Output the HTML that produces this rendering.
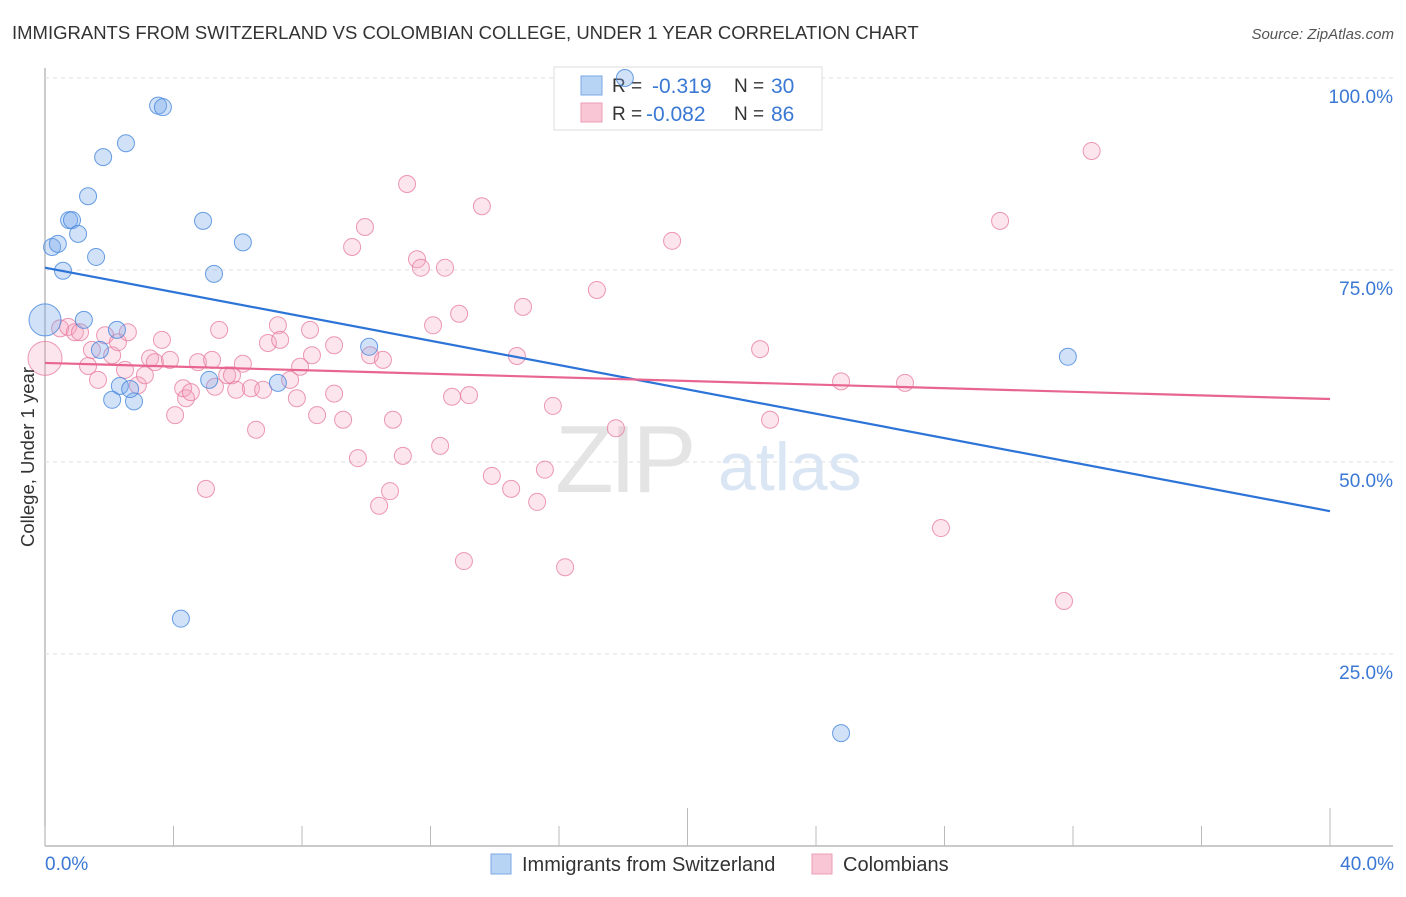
<!DOCTYPE html>
<html><head><meta charset="utf-8"><style>
body{margin:0;background:#fff;font-family:"Liberation Sans",sans-serif;}
svg text{font-family:"Liberation Sans",sans-serif;}
</style></head><body>
<svg id="chart" width="1406" height="892" viewBox="0 0 1406 892" xmlns="http://www.w3.org/2000/svg">
<text x="12" y="39" font-size="18.5" fill="#333">IMMIGRANTS FROM SWITZERLAND VS COLOMBIAN COLLEGE, UNDER 1 YEAR CORRELATION CHART</text>
<text x="1394" y="39" font-size="15" fill="#555" text-anchor="end" font-style="italic">Source: ZipAtlas.com</text>
<g id="grid"></g>
<text x="555" y="492" font-size="96" fill="#e4e4e4" font-family="Liberation Serif" letter-spacing="-4">ZIP</text>
<text x="718" y="490" font-size="68" fill="#dbe6f4">atlas</text>
<g>
<rect x="554" y="67" width="268" height="63" fill="#fff" stroke="#ddd"/>
<rect x="581" y="76" width="21" height="19" fill="#b8d4f5" stroke="#7aa9e6"/>
<rect x="581" y="103" width="21" height="19" fill="#f9c6d5" stroke="#eb9db5"/>
<text x="612" y="92" font-size="19" fill="#333">R =</text>
<text x="652" y="93" font-size="21" fill="#3a78d4">-0.319</text>
<text x="734" y="92" font-size="19" fill="#333">N =</text>
<text x="771" y="93" font-size="21" fill="#3a78d4">30</text>
<text x="612" y="120" font-size="19" fill="#333">R =</text>
<text x="646" y="121" font-size="21" fill="#3a78d4">-0.082</text>
<text x="734" y="120" font-size="19" fill="#333">N =</text>
<text x="771" y="121" font-size="21" fill="#3a78d4">86</text>
</g>
<g id="points"></g>
<g id="lines"></g>
<text transform="translate(34,457) rotate(-90)" font-size="18.5" fill="#333" text-anchor="middle">College, Under 1 year</text>
<text x="45" y="870" font-size="19" fill="#3a78d4">0.0%</text>
<text x="1394" y="870" font-size="19" fill="#3a78d4" text-anchor="end">40.0%</text>
<g>
<rect x="491" y="854" width="20" height="20" fill="#b8d4f5" stroke="#7aa9e6"/>
<text x="522" y="871" font-size="20" fill="#333">Immigrants from Switzerland</text>
<rect x="812" y="854" width="20" height="20" fill="#f9c6d5" stroke="#eb9db5"/>
<text x="843" y="871" font-size="20" fill="#333">Colombians</text>
</g>
</svg>
<script>
const yTicks=[25,50,75,100];
const yTickLabels=["25.0%","50.0%","75.0%","100.0%"];
const swissX=[0,0.22,0.40,0.56,0.75,0.84,1.03,1.34,1.59,1.21,1.81,2.52,3.52,3.67,4.92,6.16,5.26,2.24,1.71,2.09,2.33,2.77,2.65,5.11,4.23,7.25,10.09,18.05,31.84,24.78];
const swissY=[68.5,78.0,78.4,74.9,81.5,81.5,79.7,84.6,76.7,68.5,89.7,91.5,96.4,96.2,81.4,78.6,74.5,67.2,64.6,58.1,59.9,57.9,59.5,60.7,29.6,60.3,65.0,100,63.7,14.7];
const colX=[0,0.47,0.72,0.93,1.09,1.34,1.46,1.65,1.87,2.09,2.27,2.49,2.58,2.89,3.11,3.27,3.42,3.64,3.89,4.05,4.30,4.39,4.54,4.76,5.01,5.20,5.29,5.42,5.67,5.82,5.95,6.16,6.41,6.57,6.79,6.94,7.25,7.32,7.63,7.84,7.94,8.25,8.31,8.47,9.00,9.00,9.28,9.56,9.74,9.96,10.12,10.52,10.40,10.74,10.83,11.14,11.27,11.58,11.70,12.08,12.45,12.30,12.67,12.89,13.20,13.04,13.60,13.91,14.51,14.69,14.88,15.32,15.56,15.81,16.19,17.18,17.77,19.52,22.26,22.57,24.78,26.77,27.89,29.73,31.72,32.58];
const colY=[63.5,67.4,67.6,66.9,66.9,62.5,64.6,60.7,66.5,63.9,65.6,62.0,66.9,60.0,61.3,63.5,63.0,65.9,63.3,56.1,59.6,58.3,59.1,63.0,46.5,63.3,59.8,67.2,61.3,61.3,59.4,62.8,59.6,54.2,59.4,65.5,67.8,65.9,60.7,58.3,62.4,67.2,63.9,56.1,65.2,58.9,55.5,78.0,50.5,80.6,63.9,63.3,44.3,46.2,55.5,50.8,86.2,76.4,75.3,67.8,75.3,52.1,58.5,69.3,58.7,37.1,83.3,48.2,46.5,63.8,70.2,44.8,49.0,57.3,36.3,72.4,54.4,78.8,64.7,55.5,60.5,60.3,41.4,81.4,31.9,90.5];
const swissTrend=[75.3,43.6];
const colTrend=[62.9,58.2];
const xDomain=[0,40];

const NS="http://www.w3.org/2000/svg";
const X0=45,X1=1330,Y0=846,Y100=78;
function sx(v){return X0+(v-xDomain[0])/(xDomain[1]-xDomain[0])*(X1-X0);}
function sy(v){return Y0-v/100*(Y0-Y100);}
function mk(tag,attrs,parent){const e=document.createElementNS(NS,tag);for(const k in attrs)e.setAttribute(k,attrs[k]);parent.appendChild(e);return e;}
const grid=document.getElementById('grid');
let ax=mk('line',{x1:X0,y1:68,x2:X0,y2:Y0,stroke:'#aaa','stroke-width':1.2},grid);


let bx=mk('line',{x1:X0,y1:Y0,x2:1393,y2:Y0,stroke:'#aaa','stroke-width':1.2},grid);


yTicks.forEach((t,i)=>{
  const g=mk('line',{x1:X0,y1:sy(t),x2:1393,y2:sy(t),stroke:'#ddd','stroke-dasharray':'4,4'},grid);
  
  
  const l=mk('text',{x:1393,y:sy(t)+25,'font-size':19,fill:'#3a78d4','text-anchor':'end'},grid);
  l.textContent=yTickLabels[i];
  
  
});
for(let i=0;i<=10;i++){
  const v=xDomain[0]+i*(xDomain[1]-xDomain[0])/10;
  const tall=(i===5||i===10);
  const tk=mk('line',{x1:sx(v),y1:tall?808:826,x2:sx(v),y2:Y0,stroke:'#bbb'},grid);
  
  
}
const pts=document.getElementById('points');
colX.forEach((x,i)=>{
  const c=mk('circle',{cx:sx(x),cy:sy(colY[i]),r:i===0?17:8.5,fill:'rgba(244,160,190,0.28)',stroke:'rgba(230,120,155,0.75)','stroke-width':1},pts);
  
  
});
swissX.forEach((x,i)=>{
  const c=mk('circle',{cx:sx(x),cy:sy(swissY[i]),r:i===0?16:8.5,fill:'rgba(120,170,235,0.35)',stroke:'rgba(70,135,220,0.8)','stroke-width':1},pts);
  
  
});
const lines=document.getElementById('lines');
const bl=mk('line',{x1:sx(xDomain[0]),y1:sy(swissTrend[0]),x2:sx(xDomain[1]),y2:sy(swissTrend[1]),stroke:'#2d74d8','stroke-width':2.2},lines);


const pl=mk('line',{x1:sx(xDomain[0]),y1:sy(colTrend[0]),x2:sx(xDomain[1]),y2:sy(colTrend[1]),stroke:'#e8658f','stroke-width':2.2},lines);


</script>
</body></html>
